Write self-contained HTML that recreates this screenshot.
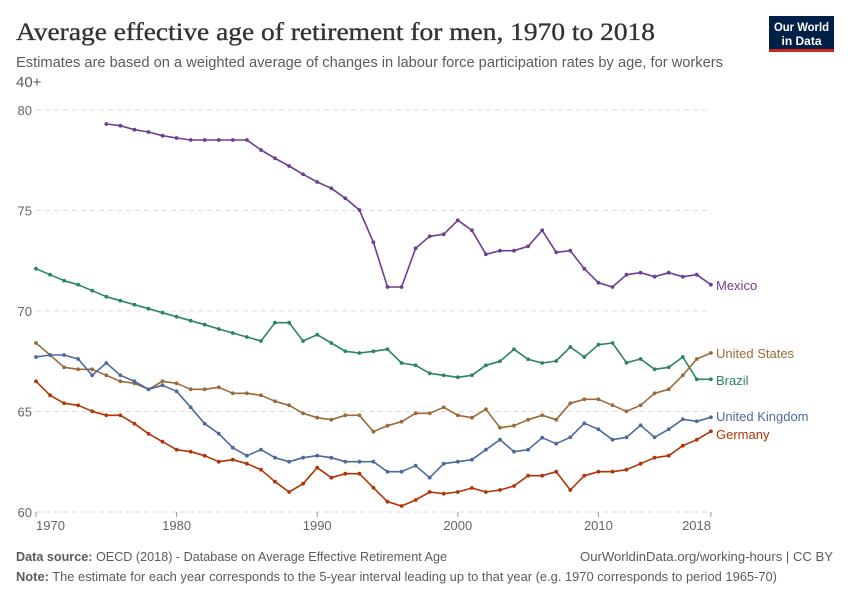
<!DOCTYPE html>
<html>
<head>
<meta charset="utf-8">
<style>
  html,body{margin:0;padding:0;background:#fff;}
  svg{display:block;}
  text{font-family:"Liberation Sans",sans-serif;}
</style>
</head>
<body>
<svg width="850" height="600" viewBox="0 0 850 600" xmlns="http://www.w3.org/2000/svg">
  <defs>
    <marker id="mMx" markerUnits="userSpaceOnUse" markerWidth="6" markerHeight="6" refX="3" refY="3"><circle cx="3" cy="3" r="1.9" fill="#6D3E91"/></marker>
    <marker id="mBr" markerUnits="userSpaceOnUse" markerWidth="6" markerHeight="6" refX="3" refY="3"><circle cx="3" cy="3" r="1.9" fill="#2C8465"/></marker>
    <marker id="mUs" markerUnits="userSpaceOnUse" markerWidth="6" markerHeight="6" refX="3" refY="3"><circle cx="3" cy="3" r="1.9" fill="#9A6B38"/></marker>
    <marker id="mUk" markerUnits="userSpaceOnUse" markerWidth="6" markerHeight="6" refX="3" refY="3"><circle cx="3" cy="3" r="1.9" fill="#4C6A9C"/></marker>
    <marker id="mDe" markerUnits="userSpaceOnUse" markerWidth="6" markerHeight="6" refX="3" refY="3"><circle cx="3" cy="3" r="1.9" fill="#B13507"/></marker>
  </defs>

  <!-- Title -->
  <text x="16" y="40" style="font-family:'Liberation Serif',serif" font-size="25" fill="#333" stroke="#333" stroke-width="0.35" textLength="639" lengthAdjust="spacingAndGlyphs">Average effective age of retirement for men, 1970 to 2018</text>
  <text x="16" y="67" font-size="15" fill="#5b5b5b" textLength="707" lengthAdjust="spacingAndGlyphs">Estimates are based on a weighted average of changes in labour force participation rates by age, for workers</text>
  <text x="16" y="87" font-size="15" fill="#5b5b5b">40+</text>

  <!-- Logo -->
  <rect x="769" y="16" width="65" height="34" fill="#002147"/>
  <rect x="769" y="49" width="65" height="3" fill="#CE261E"/>
  <text x="801.5" y="31" font-size="12" font-weight="bold" fill="#fff" text-anchor="middle" textLength="55" lengthAdjust="spacingAndGlyphs">Our World</text>
  <text x="801.5" y="45" font-size="12" font-weight="bold" fill="#fff" text-anchor="middle">in Data</text>

  <!-- Grid -->
  <g stroke="#dddddd" stroke-width="1" stroke-dasharray="5,4">
    <line x1="36" y1="110" x2="711" y2="110"/>
    <line x1="36" y1="210.5" x2="711" y2="210.5"/>
    <line x1="36" y1="311" x2="711" y2="311"/>
    <line x1="36" y1="411.5" x2="711" y2="411.5"/>
    <line x1="36" y1="512" x2="711" y2="512"/>
  </g>
  <g fill="#666" font-size="13" text-anchor="end">
    <text x="32" y="115">80</text>
    <text x="32" y="215.5">75</text>
    <text x="32" y="316">70</text>
    <text x="32" y="416.5">65</text>
    <text x="32" y="517">60</text>
  </g>
  <!-- x ticks -->
  <g stroke="#999" stroke-width="1">
    <line x1="36" y1="512" x2="36" y2="517"/>
    <line x1="176.6" y1="512" x2="176.6" y2="517"/>
    <line x1="317.2" y1="512" x2="317.2" y2="517"/>
    <line x1="457.8" y1="512" x2="457.8" y2="517"/>
    <line x1="598.4" y1="512" x2="598.4" y2="517"/>
    <line x1="710.9" y1="512" x2="710.9" y2="517"/>
  </g>
  <g fill="#666" font-size="13">
    <text x="36" y="530">1970</text>
    <text x="176.6" y="530" text-anchor="middle">1980</text>
    <text x="317.2" y="530" text-anchor="middle">1990</text>
    <text x="457.8" y="530" text-anchor="middle">2000</text>
    <text x="598.4" y="530" text-anchor="middle">2010</text>
    <text x="711" y="530" text-anchor="end">2018</text>
  </g>

  <!-- Series -->
  <g fill="none" stroke-width="1.6" stroke-linejoin="round">
    <polyline stroke="#6D3E91" marker-start="url(#mMx)" marker-mid="url(#mMx)" marker-end="url(#mMx)" points="106.3,124 120.4,125.7 134.4,129.7 148.5,132 162.5,135.7 176.6,138 190.7,140 204.7,140 218.8,140 232.8,140 246.9,140 261,150 275,158.3 289.1,166 303.1,174.3 317.2,182 331.3,188.3 345.3,198.3 359.4,210 373.4,242.3 387.5,287 401.6,287 415.6,248.3 429.7,236.3 443.7,234.3 457.8,220.3 471.9,230.3 485.9,254.3 500,250.7 514,250.7 528.1,246.3 542.2,230.3 556.2,252.3 570.3,250.7 584.3,268.7 598.4,282.7 612.5,287 626.5,274.7 640.6,272.7 654.6,276.7 668.7,272.7 682.8,276.7 696.8,274.7 710.9,284.7"/>
    <polyline stroke="#2C8465" marker-start="url(#mBr)" marker-mid="url(#mBr)" marker-end="url(#mBr)" points="36,268.7 50.1,274.7 64.1,280.7 78.2,284.7 92.2,290.7 106.3,296.7 120.4,300.7 134.4,304.7 148.5,308.7 162.5,312.7 176.6,316.7 190.7,320.7 204.7,324.7 218.8,329 232.8,333 246.9,337 261,341 275,322.7 289.1,322.7 303.1,341 317.2,334.7 331.3,343 345.3,351.3 359.4,353 373.4,351.3 387.5,349.3 401.6,363 415.6,365.3 429.7,373.3 443.7,375.3 457.8,377.3 471.9,375.3 485.9,365.3 500,361.3 514,349.3 528.1,359.3 542.2,363 556.2,361 570.3,347 584.3,357 598.4,344.7 612.5,343 626.5,362.7 640.6,359 654.6,369.3 668.7,367.3 682.8,357 696.8,379.3 710.9,379.3"/>
    <polyline stroke="#9A6B38" marker-start="url(#mUs)" marker-mid="url(#mUs)" marker-end="url(#mUs)" points="36,343 50.1,355 64.1,367.3 78.2,369.3 92.2,369.3 106.3,375.3 120.4,381.3 134.4,383.3 148.5,389.3 162.5,381.3 176.6,383.3 190.7,389.3 204.7,389.3 218.8,387.3 232.8,393.3 246.9,393.3 261,395.3 275,401.3 289.1,405.3 303.1,413.3 317.2,417.7 331.3,419.7 345.3,415.3 359.4,415.3 373.4,431.7 387.5,425.7 401.6,421.7 415.6,413.3 429.7,413.3 443.7,407.3 457.8,415.3 471.9,417.7 485.9,409.3 500,427.7 514,425.7 528.1,419.7 542.2,415.3 556.2,419.7 570.3,403.3 584.3,399.3 598.4,399.3 612.5,405.3 626.5,411.3 640.6,405.3 654.6,393.3 668.7,389.3 682.8,375.3 696.8,359 710.9,353"/>
    <polyline stroke="#4C6A9C" marker-start="url(#mUk)" marker-mid="url(#mUk)" marker-end="url(#mUk)" points="36,357 50.1,355 64.1,355 78.2,359 92.2,375.3 106.3,363 120.4,375.3 134.4,381.3 148.5,389.3 162.5,385.3 176.6,391.3 190.7,407.3 204.7,423.7 218.8,433.7 232.8,447.7 246.9,455.7 261,449.7 275,457.7 289.1,461.7 303.1,457.7 317.2,455.7 331.3,457.7 345.3,461.7 359.4,461.7 373.4,461.7 387.5,471.7 401.6,471.7 415.6,465.7 429.7,477.7 443.7,463.7 457.8,461.7 471.9,459.7 485.9,449.7 500,439.7 514,451.7 528.1,449.7 542.2,437.7 556.2,443.7 570.3,437.3 584.3,423.3 598.4,429.3 612.5,439.7 626.5,437.3 640.6,425.3 654.6,437.3 668.7,429.3 682.8,419.3 696.8,421.3 710.9,417.3"/>
    <polyline stroke="#B13507" marker-start="url(#mDe)" marker-mid="url(#mDe)" marker-end="url(#mDe)" points="36,381.3 50.1,395.3 64.1,403.3 78.2,405.3 92.2,411.3 106.3,415.3 120.4,415.3 134.4,423.7 148.5,433.7 162.5,441.7 176.6,449.7 190.7,451.7 204.7,455.7 218.8,461.7 232.8,459.7 246.9,463.7 261,469.7 275,481.7 289.1,492 303.1,483.7 317.2,467.7 331.3,477.7 345.3,473.7 359.4,473.7 373.4,487.7 387.5,501.7 401.6,506 415.6,500 429.7,492 443.7,493.7 457.8,492 471.9,488 485.9,492 500,490 514,486 528.1,475.7 542.2,475.7 556.2,471.7 570.3,490 584.3,475.7 598.4,471.7 612.5,471.7 626.5,469.7 640.6,463.7 654.6,457.7 668.7,455.7 682.8,445.7 696.8,439.7 710.9,431.3"/>
  </g>

  <!-- Series labels -->
  <g font-size="13">
    <text x="716" y="290" fill="#6D3E91">Mexico</text>
    <text x="716" y="358" fill="#9A6B38">United States</text>
    <text x="716" y="385" fill="#2C8465">Brazil</text>
    <text x="716" y="421" fill="#4C6A9C">United Kingdom</text>
    <text x="716" y="439" fill="#B13507">Germany</text>
  </g>

  <!-- Footer -->
  <text x="16" y="561" font-size="13" fill="#5b5b5b" textLength="431" lengthAdjust="spacingAndGlyphs"><tspan font-weight="bold">Data source:</tspan> OECD (2018) - Database on Average Effective Retirement Age</text>
  <text x="833" y="561" font-size="13" fill="#5b5b5b" text-anchor="end" textLength="253" lengthAdjust="spacingAndGlyphs">OurWorldinData.org/working-hours | CC BY</text>
  <text x="16" y="581" font-size="13" fill="#5b5b5b" textLength="761" lengthAdjust="spacingAndGlyphs"><tspan font-weight="bold">Note:</tspan> The estimate for each year corresponds to the 5-year interval leading up to that year (e.g. 1970 corresponds to period 1965-70)</text>
</svg>
</body>
</html>
